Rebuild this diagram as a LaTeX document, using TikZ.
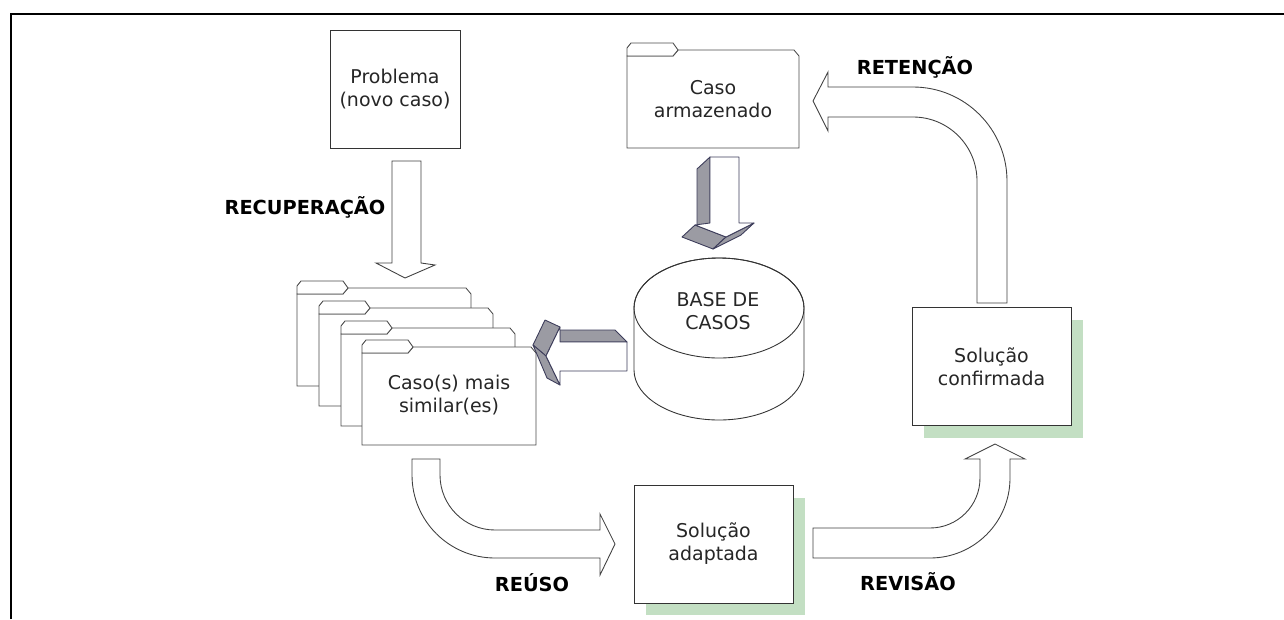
\documentclass[tikz,border=0pt]{standalone}
\usepackage{fontspec}
\setmainfont{DejaVu Sans}
\usetikzlibrary{shadows}
\definecolor{sombra}{RGB}{195,223,195}
\definecolor{faceseta}{RGB}{155,155,163}
\definecolor{bordaseta}{RGB}{60,60,90}
\tikzstyle{texto}=[align=center, font=\fontsize{10.8}{13}\selectfont, text=black!85]
\tikzstyle{caixa}=[texto, draw=black!80, fill=white, line width=0.5pt]
\tikzstyle{solucao}=[caixa, minimum width=3.18cm, minimum height=2.36cm, drop shadow={shadow xshift=0.24cm, shadow yshift=-0.25cm, fill=sombra, opacity=1}]
\tikzstyle{rotulo}=[font=\fontsize{11}{13}\selectfont\bfseries]
\tikzstyle{seta}=[draw=black!75, fill=white, line width=0.5pt]
\tikzstyle{seta3d}=[draw=bordaseta, line width=0.5pt, line join=round]
\tikzstyle{pasta}=[draw=black!70, fill=white, line width=0.5pt]
% pasta: x, y do topo da aba, largura
\newcommand{\desenhapasta}[3]{%
  \draw[pasta] (#1,-#2-13) -- (#1,-#2-105) -- (#1+#3,-#2-105) -- (#1+#3,-#2-13) -- (#1+#3-5,-#2-7) -- (#1+51,-#2-7) -- (#1+46,-#2-13) -- cycle;
  \draw[pasta] (#1,-#2-13) -- (#1,-#2-5) -- (#1+4,-#2) -- (#1+46,-#2) -- (#1+51,-#2-7) -- (#1+46,-#2-13) -- cycle;
}

\begin{document}
\begin{tikzpicture}[x=0.02cm, y=0.02cm]
        \useasboundingbox (0,0) rectangle (1284,-619);
        \draw[line width=1.2pt] (11,-619) -- (11,-14) -- (1284,-14);

        \node[caixa, minimum width=2.6cm, minimum height=2.36cm] (problema) at (395,-89) {Problema\\(novo caso)};
        \draw[seta] (392,-161) -- (421,-161) -- (421,-263) -- (435,-265) -- (405,-278) -- (376,-263) -- (392,-263) -- cycle;
        \node[rotulo] (recuperacao) at (305,-207) {RECUPERAÇÃO};

        \foreach \x/\y in {297/281, 319/301, 341/321, 362/340} {\desenhapasta{\x}{\y}{174}}
        \node[texto] (similares) at (449,-395) {Caso(s) mais\\similar(es)};

        \desenhapasta{627}{43}{172}
        \node[texto] (armazenado) at (713,-99) {Caso\\armazenado};

        % seta 3d para baixo
        \fill[faceseta, seta3d] (710,-157) -- (697,-169) -- (697,-235) -- (710,-223) -- cycle;
        \fill[faceseta, seta3d] (695,-225) -- (726,-237) -- (713,-249) -- (682,-237) -- cycle;
        \fill[faceseta, seta3d] (726,-237) -- (754,-223) -- (741,-235) -- (713,-249) -- cycle;
        \draw[seta3d, fill=white] (710,-157) -- (739,-157) -- (739,-223) -- (754,-223) -- (726,-237) -- (695,-225) -- (710,-223) -- cycle;

        % seta 3d para a esquerda
        \fill[faceseta, seta3d] (560,-342) -- (627,-342) -- (615,-330) -- (560,-330) -- cycle;
        \fill[faceseta, seta3d] (560,-327) -- (546,-356) -- (533,-345) -- (545,-320) -- cycle;
        \fill[faceseta, seta3d] (546,-356) -- (560,-385) -- (547,-378) -- (533,-345) -- cycle;
        \draw[seta3d, fill=white] (546,-356) -- (560,-327) -- (560,-342) -- (627,-342) -- (627,-371) -- (560,-371) -- (560,-385) -- cycle;

        \draw[fill=white, draw=black!80, line width=0.5pt] (634,-308) -- (634,-370) arc[start angle=180, end angle=360, x radius=85, y radius=50] -- (804,-308) arc[start angle=0, end angle=180, x radius=85, y radius=50] -- cycle;
        \draw[draw=black!80, line width=0.5pt] (719,-308) ellipse [x radius=85, y radius=50];
        \node[texto] (base) at (718,-311) {BASE DE\\CASOS};

        \draw[seta] (412,-459) -- (412,-475) arc[start angle=180, end angle=270, radius=83] -- (600,-558) -- (600,-575) -- (615,-544) -- (600,-514) -- (600,-530) -- (495,-530) arc[start angle=270, end angle=180, radius=55] -- (440,-459) -- cycle;
        \node[rotulo] (reuso) at (532,-583) {REÚSO};

        \node[solucao] (adaptada) at (713.5,-544) {Solução\\adaptada};

        \draw[seta] (813,-528) -- (930,-528) arc[start angle=270, end angle=360, radius=50] -- (980,-459) -- (965,-459) -- (995,-444) -- (1025,-459) -- (1010,-459) -- (1010,-478) arc[start angle=0, end angle=-90, radius=80] -- (813,-558) -- cycle;
        \node[rotulo] (revisao) at (908,-582) {REVISÃO};

        \node[solucao] (confirmada) at (991.5,-366.5) {Solução\\confirmada};

        \draw[seta] (977,-303) -- (977,-181) arc[start angle=0, end angle=90, radius=64] -- (828,-117) -- (828,-131) -- (813,-101) -- (828,-72) -- (828,-87) -- (913,-87) arc[start angle=90, end angle=0, radius=94] -- (1007,-303) -- cycle;
        \node[rotulo] (retencao) at (915,-67) {RETENÇÃO};
    \end{tikzpicture}
\end{document}
